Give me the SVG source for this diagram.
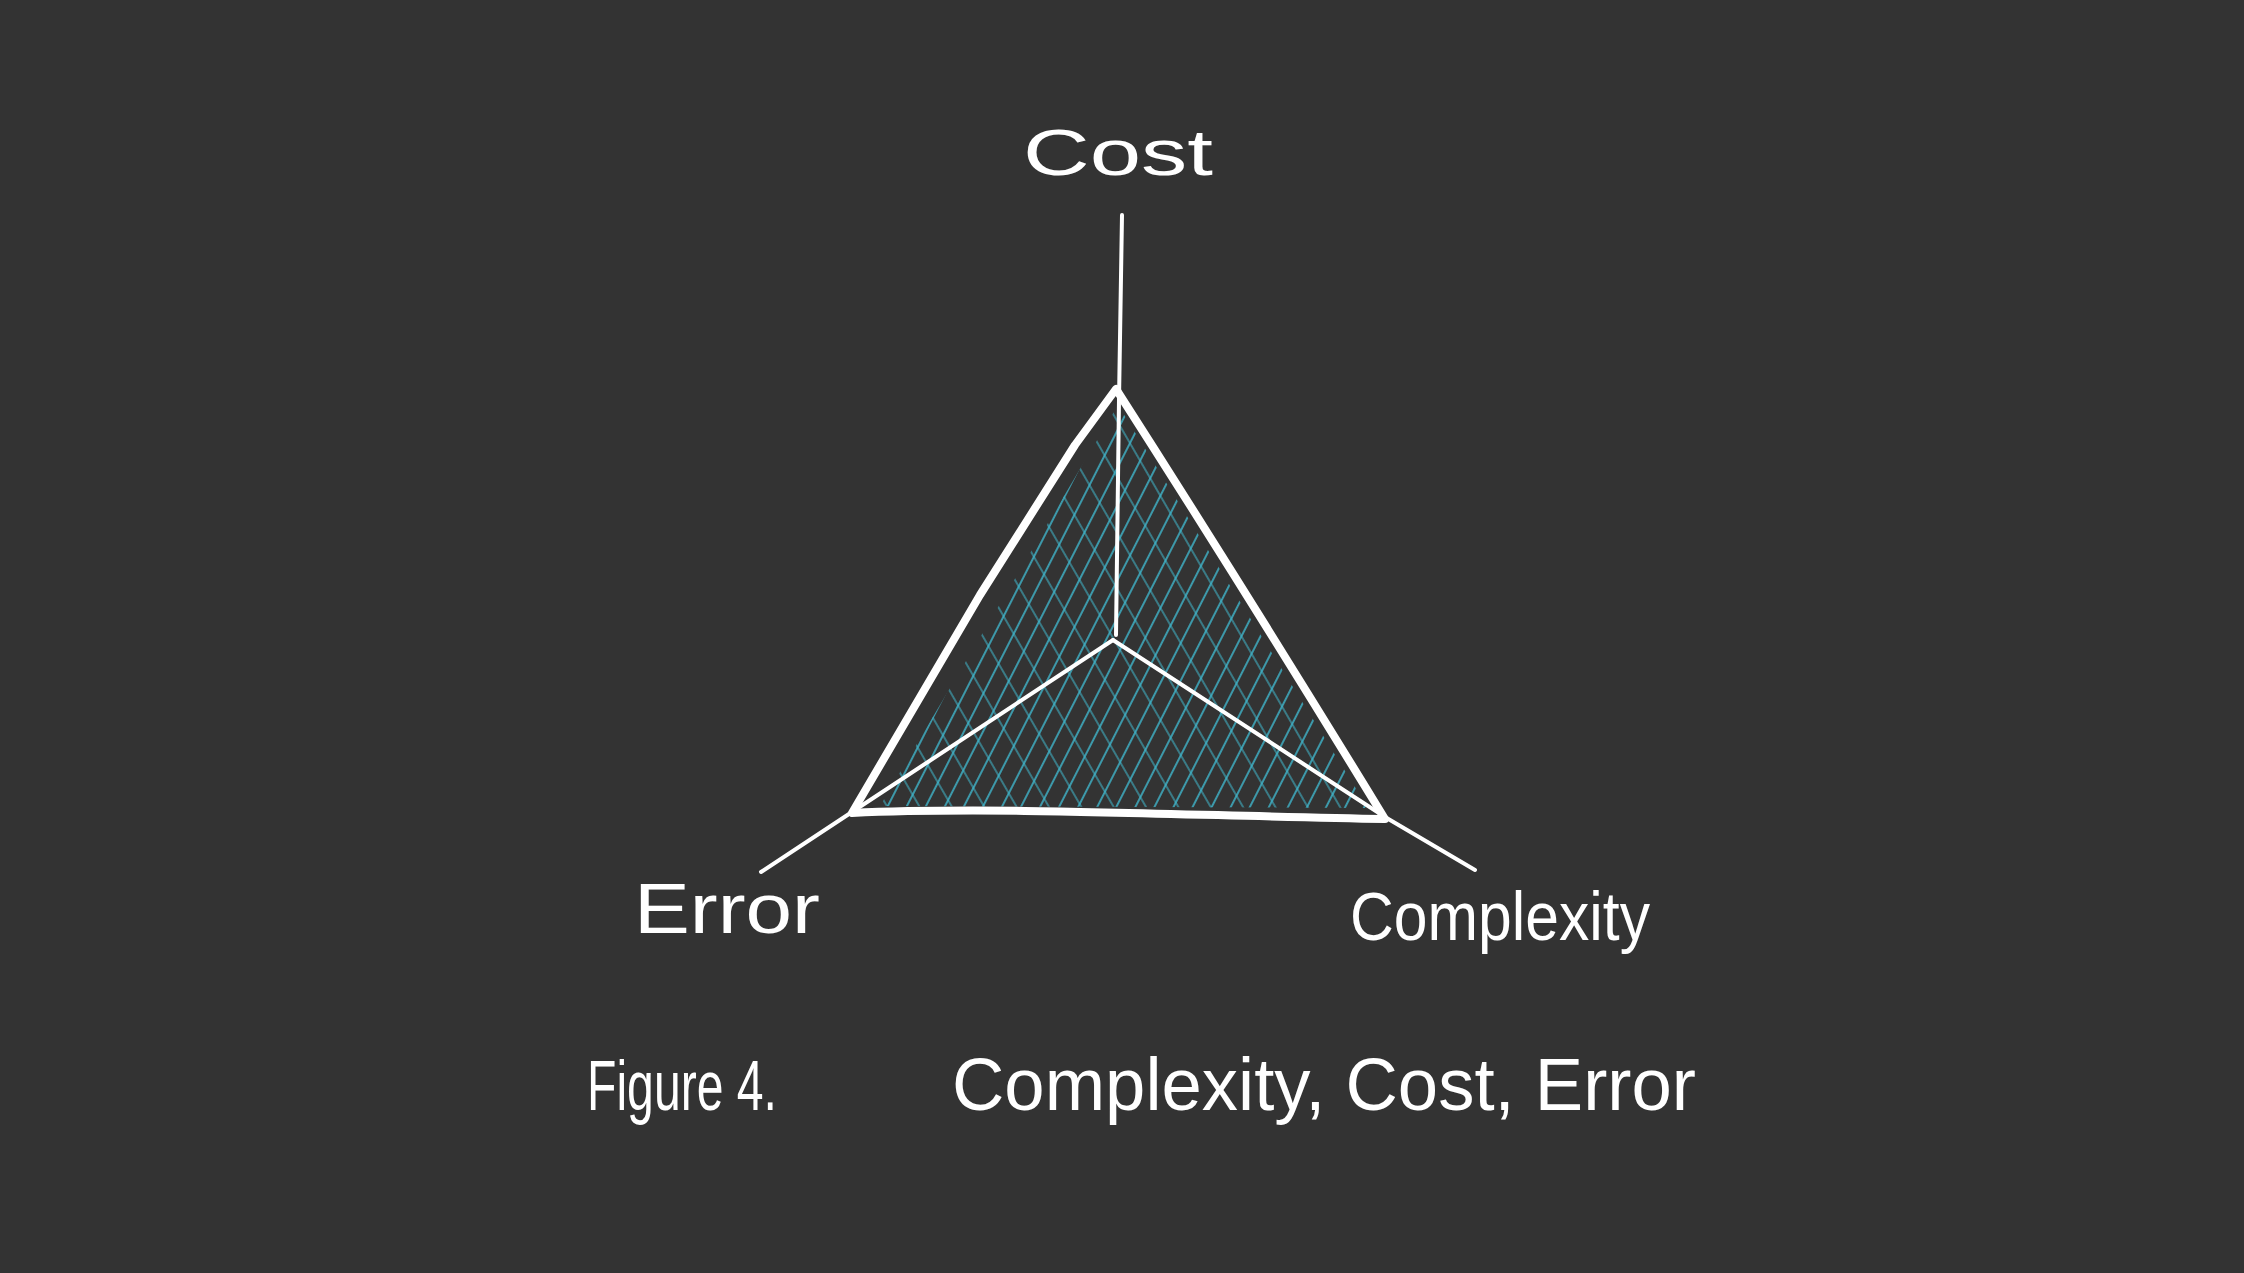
<svg xmlns="http://www.w3.org/2000/svg" width="2244" height="1273" viewBox="0 0 2244 1273">
<style>
.lbl{font-family:"Liberation Sans",Arial,sans-serif;fill:#ffffff;font-weight:normal}
.tri{fill:none;stroke:#ffffff;stroke-width:8;stroke-linejoin:round;stroke-linecap:round}
.axis{fill:none;stroke:#ffffff;stroke-width:4;stroke-linecap:round}
</style>
<defs>
<pattern id="h1" width="17" height="17" patternUnits="userSpaceOnUse" patternTransform="rotate(27)">
<line x1="1" y1="0" x2="1" y2="17" stroke="#3fb3c8" stroke-width="1.6"/>
</pattern>
<pattern id="h2" width="28" height="28" patternUnits="userSpaceOnUse" patternTransform="rotate(-30)">
<line x1="1" y1="0" x2="1" y2="28" stroke="#3fb3c8" stroke-width="1.4"/>
</pattern>
<clipPath id="triClip">
<polygon points="1118,405 1368,808 880,806"/>
</clipPath>
</defs>
<rect width="2244" height="1273" fill="#333333"/>
<g id="hatch" clip-path="url(#triClip)">
<rect x="850" y="380" width="540" height="440" fill="url(#h1)"/>
<rect x="850" y="380" width="540" height="440" fill="url(#h2)" opacity="0.8"/>
</g>
<g id="connectors">
<path class="axis" d="M1122,215 L1119,400 L1116,635"/>
<path class="axis" d="M1113,640 L852,812 L761,872"/>
<path class="axis" d="M1113,640 L1385,817 L1475,870"/>
</g>
<g id="triangle">
<path class="tri" d="M1116,389 L1075,445 L980,595 L852,813 C1000,806 1200,816 1385,819 C1300,680 1200,520 1116,389 Z"/>
</g>
<g id="cost">
<text class="lbl" x="1023" y="175" font-size="64" textLength="190" lengthAdjust="spacingAndGlyphs">Cost</text>
</g>
<g id="error">
<text class="lbl" x="634" y="933" font-size="70" textLength="186" lengthAdjust="spacingAndGlyphs">Error</text>
</g>
<g id="complexity">
<text class="lbl" x="1350" y="940" font-size="68" textLength="300" lengthAdjust="spacingAndGlyphs">Complexity</text>
</g>
<g id="caption">
<text class="lbl" x="587" y="1110" font-size="70" textLength="190" lengthAdjust="spacingAndGlyphs">Figure 4.</text>
<text class="lbl" x="952" y="1110" font-size="74" textLength="744" lengthAdjust="spacingAndGlyphs">Complexity, Cost, Error</text>
</g>
</svg>
